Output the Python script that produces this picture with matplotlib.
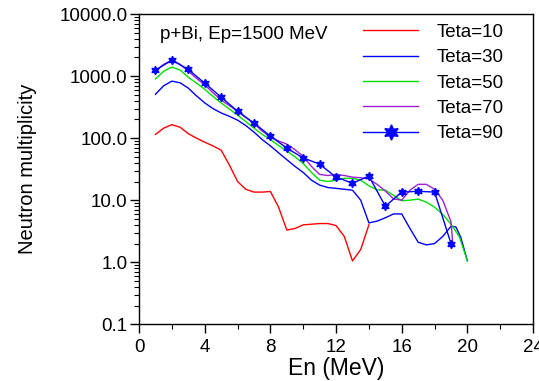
import numpy as np
import matplotlib.pyplot as plt
from matplotlib.lines import Line2D
from matplotlib.ticker import FixedLocator, LogLocator, NullFormatter, FormatStrFormatter

plt.rcParams['font.family'] = ['Liberation Sans', 'DejaVu Sans']

# --- neutron multiplicity vs energy, p+Bi at Ep=1500 MeV ---
en_10 = [1, 1.5, 2, 2.5, 3, 3.5, 4, 4.5, 5, 5.5, 6, 6.5, 7, 7.5, 8, 8.5, 9, 9.5,
         10, 10.5, 11, 11.5, 12, 12.5, 13, 13.5, 14]
teta_10 = [115, 145, 165, 150, 118, 100, 86, 75, 64, 37, 20, 15, 13.5, 13.5, 13.8, 7.7,
           3.3, 3.5, 4.0, 4.1, 4.2, 4.2, 3.9, 2.6, 1.05, 1.6, 4.0]

en_30 = [1, 1.5, 2, 2.5, 3, 3.5, 4, 4.5, 5, 5.5, 6, 6.5, 7, 7.5, 8, 8.5, 9, 9.5,
         10, 10.5, 11, 11.5, 12, 12.5, 13, 13.5, 14, 14.5, 15, 15.5, 16, 16.5, 17,
         17.5, 18, 18.5, 19, 19.3, 19.6, 20]
teta_30 = [510, 700, 830, 780, 640, 480, 370, 300, 255, 225, 195, 160, 125, 95, 75, 58,
           45, 35, 28, 21, 17.5, 16, 15.5, 15, 14.5, 10, 4.3, 4.6, 5.2, 6.0, 6.0, 3.5,
           2.1, 1.9, 2.0, 2.6, 3.8, 3.7, 2.5, 1.05]

en_50 = [1, 1.5, 2, 2.5, 3, 3.5, 4, 4.5, 5, 5.5, 6, 6.5, 7, 7.5, 8, 8.5, 9, 9.5,
         10, 10.5, 11, 11.5, 12, 12.5, 13, 13.5, 14, 14.5, 15, 15.5, 16, 16.5, 17,
         17.5, 18, 18.5, 19, 19.5, 20]
teta_50 = [900, 1200, 1400, 1250, 960, 770, 615, 470, 370, 295, 235, 185, 145, 115, 95,
           76, 62, 50, 39, 28, 21, 20, 21, 22.5, 22.5, 21, 17, 14.7, 14.5, 12, 9.8, 10,
           10.4, 9.3, 7.7, 5.9, 4.1, 2.6, 1.05]

en_70 = [1, 1.5, 2, 2.5, 3, 3.5, 4, 4.5, 5, 5.5, 6, 6.5, 7, 7.5, 8, 8.5, 9, 9.5,
         10, 10.5, 11, 11.5, 12, 12.5, 13, 13.5, 14, 14.5, 15, 15.5, 16, 16.5, 17,
         17.5, 18, 18.5, 19, 19.1]
teta_70 = [1200, 1550, 1800, 1550, 1200, 920, 720, 540, 410, 335, 272, 215, 172, 130,
           104, 90, 80, 65, 51, 35, 26, 25, 26, 25, 23.5, 23, 22, 18, 14, 10.5, 10,
           14.5, 18, 18, 15, 10, 4.5, 2.1]

en_90 = [1, 2, 3, 4, 5, 6, 7, 8, 9, 10, 11, 12, 13, 14, 15, 16, 17, 18, 19]
teta_90 = [1250, 1810, 1280, 770, 458, 272, 175, 108, 69, 48, 38, 23.5, 18.8, 24.4,
           8, 13.5, 13.9, 13.5, 2.0]

labels = ['Teta=10', 'Teta=30', 'Teta=50', 'Teta=70', 'Teta=90']
colors = ['#ff0000', '#0000ff', '#00e000', '#a020d0', '#0000ff']

star6 = (6, 1, 0)  # six-pointed star marker

fig = plt.figure(figsize=(5.39, 3.81), dpi=100)
ax = fig.add_axes([0.258, 0.149, 0.731, 0.814])

for xs, ys, c in zip([en_10, en_30, en_50, en_70], [teta_10, teta_30, teta_50, teta_70], colors):
    ax.plot(xs, ys, color=c, lw=1.0)
ax.plot(en_90, teta_90, color=colors[4], lw=1.0, marker=star6, ms=6,
        mfc=colors[4], mec=colors[4])

ax.set_yscale('log')
ax.set_xlim(0, 24)
ax.set_ylim(0.1, 10000)

ax.xaxis.set_major_locator(FixedLocator([0, 4, 8, 12, 16, 20, 24]))
ax.xaxis.set_minor_locator(FixedLocator([2, 6, 10, 14, 18, 22]))
ax.yaxis.set_major_locator(LogLocator(base=10, numticks=10))
ax.yaxis.set_minor_locator(LogLocator(base=10, subs=np.arange(2, 10), numticks=10))
ax.yaxis.set_major_formatter(FormatStrFormatter('%.1f'))
ax.yaxis.set_minor_formatter(NullFormatter())

ax.tick_params(which='major', direction='out', length=6.5, width=1, labelsize=13.5, pad=2)
ax.tick_params(axis='x', which='major', pad=4)
ax.tick_params(which='minor', direction='out', length=3.5, width=0.8)
for sp in ax.spines.values():
    sp.set_linewidth(1.0)

ax.set_xlabel('En (MeV)', fontsize=16.5, labelpad=1)
ax.set_ylabel('Neutron multiplicity', fontsize=14.5, labelpad=16)

ax.text(0.053, 0.935, 'p+Bi, Ep=1500 MeV', transform=ax.transAxes,
        fontsize=13.5, va='center', ha='left')

handles = [Line2D([], [], color=c, lw=1.0) for c in colors[:4]]
handles.append(Line2D([], [], color=colors[4], lw=1.0, marker=star6, ms=11,
                      mfc=colors[4], mec=colors[4]))
ax.legend(handles, labels, loc='upper left', frameon=False, fontsize=13.5,
          handlelength=2.93, handletextpad=1.0, labelspacing=0.44,
          bbox_to_anchor=(0.569, 0.969), borderaxespad=0, borderpad=0)

plt.savefig('out.png', dpi=100)
